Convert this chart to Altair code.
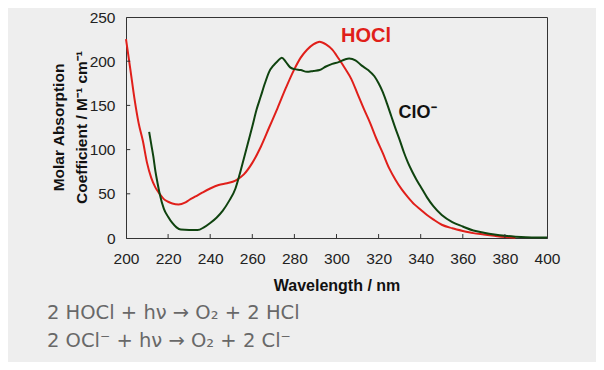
import altair as alt
import pandas as pd

# HOCl spectrum (wavelength nm, molar absorption coefficient)
hocl_wl = [200, 202, 204, 206, 208, 210, 212, 214, 216, 218, 220, 222, 225, 228, 230, 233, 236, 240, 244, 248,
           252, 256, 260, 264, 268, 272, 276, 280, 283, 286, 289, 292, 295, 298, 301, 304, 307, 310, 313, 316,
           319, 322, 325, 328, 331, 334, 337, 340, 343, 346, 350, 355, 360, 365, 370, 375, 380, 385]
hocl_val = [225, 192, 158, 130, 110, 85, 68, 57, 50, 44, 41, 39, 38, 40, 43, 47, 51, 56, 60, 62,
            65, 72, 85, 103, 125, 147, 170, 191, 204, 213, 219, 222, 219, 213, 203, 192, 180, 163, 146, 130,
            112, 96, 79, 66, 55, 46, 38, 32, 26, 21, 15, 11, 8, 5.5, 4, 2.5, 1.2, 0.4]

# ClO- spectrum
clo_wl = [211, 212, 213, 214, 215, 216, 218, 220, 222, 224, 226, 230, 234, 237, 240, 243, 246, 249, 252, 254,
          256, 258, 260, 262, 264, 266, 268, 270, 272, 274, 276, 278, 280, 283, 286, 289, 292, 295, 298, 301,
          304, 306, 309, 312, 315, 318, 320, 322, 324, 326, 328, 330, 332, 334, 336, 338, 340, 343, 346, 350,
          355, 360, 365, 370, 375, 380, 385, 390, 395, 400]
clo_val = [120, 106, 92, 75, 62, 50, 33, 24, 17, 12, 9.5, 9, 9, 12, 17, 23, 31, 42, 56, 72,
           90, 108, 126, 145, 160, 175, 188, 195, 200, 204, 199, 193, 191, 190, 188, 189, 190, 194, 197, 199,
           202, 203, 201, 195, 190, 183, 175, 165, 152, 138, 124, 111, 97, 85, 75, 66, 58, 46, 36, 26,
           18, 13, 8.5, 6, 4, 2.5, 1.5, 0.8, 0.5, 0.5]

x_ticks = [200, 220, 240, 260, 280, 300, 320, 340, 360, 380, 400]
y_ticks = [0, 50, 100, 150, 200, 250]

series_names = ["HOCl", "ClO-"]
series_colors = ["#e01f1a", "#0f430f"]

label_text = ["HOCl", "ClO⁻"]
label_x = [314, 329.5]
label_y = [228, 141]
label_colors = ["#e01f1a", "#111111"]

equations = ["2 HOCl + hν → O₂ + 2 HCl", "2 OCl⁻ + hν → O₂ + 2 Cl⁻"]

df = pd.concat([
    pd.DataFrame({"wl": hocl_wl, "val": hocl_val, "series": "HOCl"}),
    pd.DataFrame({"wl": clo_wl, "val": clo_val, "series": "ClO-"}),
])

xs = alt.Scale(domain=[200, 400], nice=False, zero=False)
ys = alt.Scale(domain=[0, 250], nice=False)

lines = alt.Chart(df).mark_line(strokeWidth=2, interpolate="monotone").encode(
    x=alt.X("wl:Q", scale=xs, axis=alt.Axis(
        values=x_ticks, title="Wavelength / nm", grid=False, ticks=False,
        labelFlush=False, labelOverlap=False,
        labelPadding=13, titleY=47, titleBaseline="middle", titleFontSize=16,
        labelFontSize=15.5)),
    y=alt.Y("val:Q", scale=ys, axis=alt.Axis(
        values=y_ticks, title=["Molar Absorption", "Coefficient / M⁻¹ cm⁻¹"], grid=False, ticks=False,
        labelFlush=False, labelOverlap=False,
        labelPadding=11, titleX=-68, titleY=110, titleAngle=-90, titleAlign="center",
        titleBaseline="middle", titleLineHeight=23, titleFontSize=15.5, labelFontSize=15.5)),
    color=alt.Color("series:N", scale=alt.Scale(domain=series_names, range=series_colors), legend=None),
    detail="series:N",
)

xt = pd.DataFrame({"t": x_ticks[1:-1], "y0": 0, "y1": 4.5})
xtick_rules = alt.Chart(xt).mark_rule(color="#333", strokeWidth=1).encode(
    x=alt.X("t:Q", scale=xs), y=alt.Y("y0:Q", scale=ys), y2="y1:Q")
yt = pd.DataFrame({"t": y_ticks[1:-1], "x0": 200, "x1": 202})
ytick_rules = alt.Chart(yt).mark_rule(color="#333", strokeWidth=1).encode(
    y=alt.Y("t:Q", scale=ys), x=alt.X("x0:Q", scale=xs), x2="x1:Q")

lab = pd.DataFrame({"text": label_text, "x": label_x, "y": label_y, "c": label_colors})
hocl_label = alt.Chart(lab.iloc[[0]]).mark_text(fontSize=20, fontWeight="bold", align="center",
                                                 baseline="middle", font="Liberation Sans").encode(
    x=alt.X("x:Q", scale=xs), y=alt.Y("y:Q", scale=ys), text="text:N", color=alt.Color("c:N", scale=None))
clo_label = alt.Chart(lab.iloc[[1]]).mark_text(fontSize=18, fontWeight="bold", align="left",
                                                baseline="middle", font="Liberation Sans").encode(
    x=alt.X("x:Q", scale=xs), y=alt.Y("y:Q", scale=ys), text="text:N", color=alt.Color("c:N", scale=None))

eq1 = alt.Chart(pd.DataFrame({"text": [equations[0]]})).mark_text(
    fontSize=19.5, align="left", baseline="middle", font="DejaVu Sans", color="#686868").encode(
    x=alt.value(-79), y=alt.value(296), text="text:N")
eq2 = alt.Chart(pd.DataFrame({"text": [equations[1]]})).mark_text(
    fontSize=19.5, align="left", baseline="middle", font="DejaVu Sans", color="#686868").encode(
    x=alt.value(-79), y=alt.value(324), text="text:N")

chart = alt.layer(lines, xtick_rules, ytick_rules, hocl_label, clo_label, eq1, eq2).properties(
    width=421, height=221,
    autosize=alt.AutoSizeParams(type="none"),
    padding={"left": 118, "top": 9, "right": 49, "bottom": 124},
    background="#eeeeee",
).configure_view(stroke="#333333", strokeWidth=1).configure_axis(
    domainColor="#333333", labelColor="#222222", titleColor="#111111",
    labelFont="Liberation Sans", titleFont="Liberation Sans", titleFontWeight="bold",
)

chart.save("out.html", embed_options={"renderer": "svg", "actions": False})
